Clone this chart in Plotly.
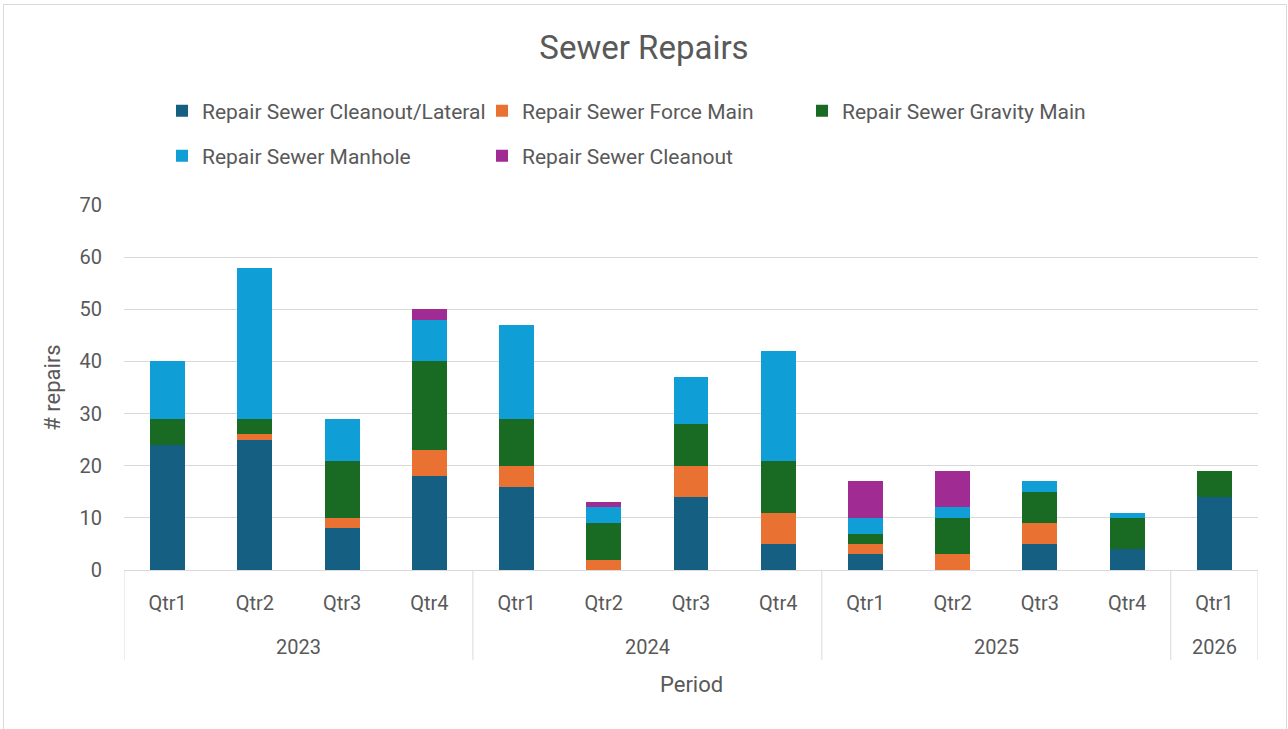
import plotly.graph_objects as go

years = ["2023"] * 4 + ["2024"] * 4 + ["2025"] * 4 + ["2026"]
quarters = ["Qtr1", "Qtr2", "Qtr3", "Qtr4"] * 3 + ["Qtr1"]

series_names = [
    "Repair Sewer Cleanout/Lateral",
    "Repair Sewer Force Main",
    "Repair Sewer Gravity Main",
    "Repair Sewer Manhole",
    "Repair Sewer Cleanout",
]
cleanout_lateral = [24, 25, 8, 18, 16, 0, 14, 5, 3, 0, 5, 4, 14]
force_main = [0, 1, 2, 5, 4, 2, 6, 6, 2, 3, 4, 0, 0]
gravity_main = [5, 3, 11, 17, 9, 7, 8, 10, 2, 7, 6, 6, 5]
manhole = [11, 29, 8, 8, 18, 3, 9, 21, 3, 2, 2, 1, 0]
cleanout = [0, 0, 0, 2, 0, 1, 0, 0, 7, 7, 0, 0, 0]

colors = ["#156082", "#E97132", "#196B24", "#0F9ED5", "#A02B93"]
values = [cleanout_lateral, force_main, gravity_main, manhole, cleanout]

FONT = "Roboto, Arial, sans-serif"
TXT = "#595959"
GRID = "#D9D9D9"

xpos = list(range(len(quarters)))

fig = go.Figure()
for i, (name, vals, col) in enumerate(zip(series_names, values, colors)):
    fig.add_trace(go.Bar(
        x=xpos, y=vals, name=name,
        marker=dict(color=col, line=dict(width=0)),
        legend="legend" if i < 3 else "legend2",
    ))

L, R, T, B = 124, 1258, 205, 570
W, H = 1288, 729
pw, ph = R - L, B - T

def px_x(x):
    return (x - L) / pw

def px_y(y):
    return (B - y) / ph

leg_common = dict(orientation="h", xanchor="left", yanchor="middle",
                  entrywidth=275, entrywidthmode="pixels",
                  font=dict(size=21, color=TXT, family=FONT),
                  traceorder="normal", bgcolor="rgba(0,0,0,0)")

fig.update_layout(
    width=W, height=H,
    margin=dict(l=L, r=W - R, t=T, b=H - B, autoexpand=False),
    barmode="stack",
    bargap=0.6,
    paper_bgcolor="white",
    plot_bgcolor="white",
    font=dict(family=FONT, color=TXT, size=20),
    title=dict(text="Sewer Repairs", x=0.5, xanchor="center", y=1 - 47 / H, yanchor="middle",
               font=dict(size=33, color=TXT, family=FONT)),
    legend=dict(x=px_x(162), y=px_y(111), **leg_common),
    legend2=dict(x=px_x(162), y=px_y(156), **leg_common),
    showlegend=True,
)
fig.update_yaxes(
    range=[0, 70], dtick=10, showgrid=True, gridcolor=GRID, gridwidth=1,
    zeroline=False, showline=False, ticks="", ticklabelstandoff=21,
    tickfont=dict(size=20, color=TXT),
    title=dict(text="# repairs", font=dict(size=22, color=TXT), standoff=12),
)
fig.update_xaxes(
    range=[-0.5, len(quarters) - 0.5], tickmode="array", tickvals=xpos, ticktext=quarters,
    showline=True, linecolor=GRID, linewidth=1, showgrid=False, zeroline=False,
    tickfont=dict(size=20, color=TXT), ticks="", ticklabelstandoff=15,
)

# year group labels and dividers
uniq_years = []
for y in years:
    if y not in uniq_years:
        uniq_years.append(y)
bounds = set()
for yr in uniq_years:
    idx = [i for i, y in enumerate(years) if y == yr]
    lo, hi = idx[0] - 0.5, idx[-1] + 0.5
    bounds.update([lo, hi])
    fig.add_annotation(x=(lo + hi) / 2, xref="x", y=px_y(647), yref="paper",
                       text=yr, showarrow=False, xanchor="center", yanchor="middle",
                       font=dict(size=20, color=TXT, family=FONT))
for bx in sorted(bounds):
    fig.add_shape(type="line", xref="x", yref="paper", x0=bx, x1=bx,
                  y0=0, y1=px_y(660), line=dict(color=GRID, width=1))

fig.add_annotation(x=0.5, xref="paper", y=px_y(684), yref="paper", text="Period",
                   showarrow=False, xanchor="center", yanchor="middle",
                   font=dict(size=22, color=TXT, family=FONT))

fig.add_shape(type="rect", xref="paper", yref="paper",
              x0=px_x(3.5), x1=px_x(1286.5), y0=px_y(735), y1=px_y(4.5),
              line=dict(color=GRID, width=1), fillcolor="rgba(0,0,0,0)", layer="below")

fig.write_html("out.html", config={"displayModeBar": False},
               post_script="document.body.style.margin='0px';")
